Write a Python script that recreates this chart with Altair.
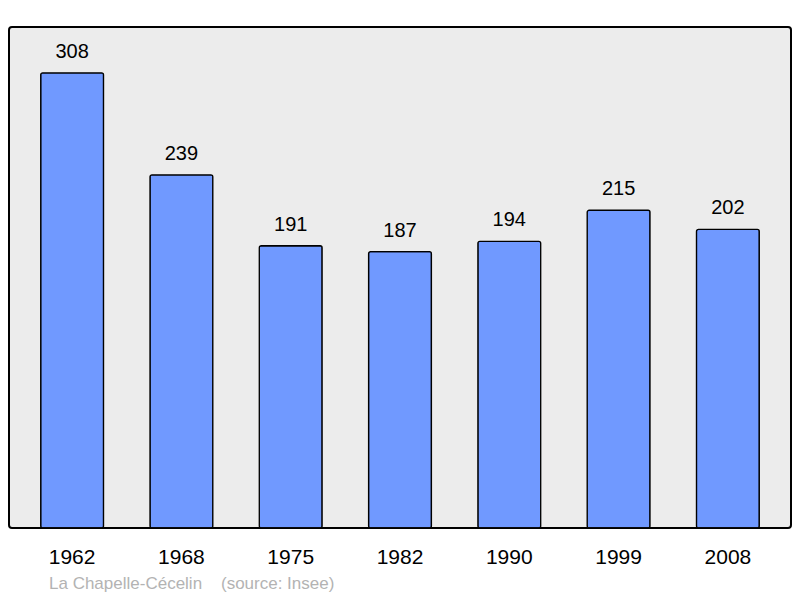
import altair as alt
import pandas as pd

years = ["1962", "1968", "1975", "1982", "1990", "1999", "2008"]
population = [308, 239, 191, 187, 194, 215, 202]

df = pd.DataFrame({"year": years, "pop": population})

FONT = "Liberation Sans"

base = alt.Chart(df).encode(
    x=alt.X("year:N", sort=years, title=None,
            scale=alt.Scale(paddingInner=0.425, paddingOuter=0.29),
            axis=alt.Axis(labelFontSize=21, labelColor="black", labelFont=FONT,
                          labelPadding=18, domain=False, ticks=False, labelAngle=0)),
    y=alt.Y("pop:Q", title=None, scale=alt.Scale(domain=[0, 339], nice=False, zero=True),
            axis=None),
)

bars = base.mark_bar(color="#7099ff", stroke="black", strokeWidth=1.3, cornerRadius=2)
labels = base.mark_text(baseline="alphabetic", dy=-15, fontSize=20, font=FONT, color="black").encode(
    text="pop:Q"
)

chart = (bars + labels).properties(
    width=782,
    height=501,
    autosize="none",
    padding={"left": 1, "top": 19, "right": 1, "bottom": 70},
    title=alt.TitleParams(
        text="La Chapelle-C\u00e9celin\u00a0\u00a0\u00a0\u00a0(source: Insee)",
        orient="bottom", anchor="start", dx=40, offset=9,
        fontSize=17, font=FONT, fontWeight="normal", color="#b3b3b3",
    ),
).configure_view(
    fill="#ececec", stroke="black", strokeWidth=2, cornerRadius=3
)

chart.save("out.html", embed_options={"renderer": "svg", "actions": False})
